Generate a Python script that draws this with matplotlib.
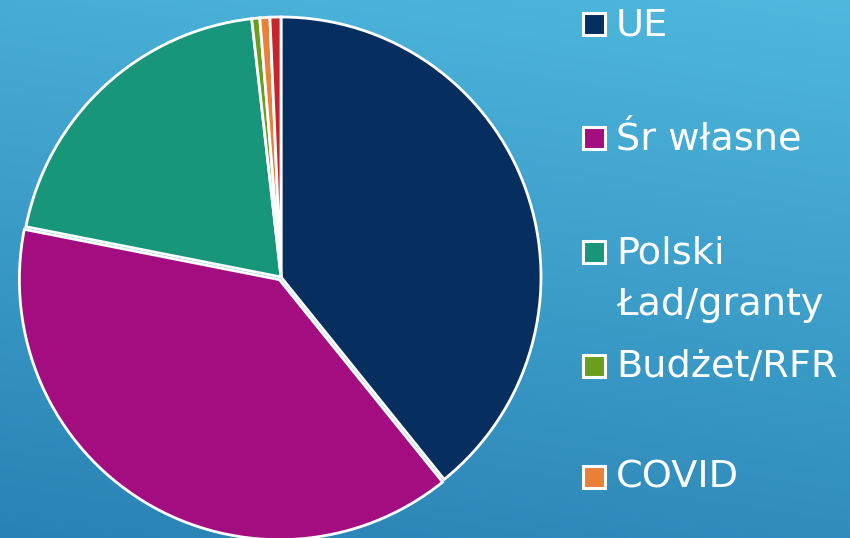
import numpy as np
import matplotlib
matplotlib.use('Agg')
import matplotlib.pyplot as plt
from matplotlib.patches import Rectangle

# Data (share of funding, %)
categories = ['UE', 'Śr własne', 'Polski\nŁad/granty', 'Budżet/RFR', 'COVID', 'Inne']
values = [39.2, 38.9, 20.1, 0.5, 0.62, 0.68]
colors = ['#062f5f', '#a30d80', '#17967a', '#6b9e1e', '#ea8039', '#c8242b']
explode = [0, 0.012, 0, 0, 0, 0]
legend_y = [24, 138, 252, 366, 477]  # pixel rows of the legend entries (first line)

W, H = 850, 538
fig = plt.figure(figsize=(W / 100, H / 100), dpi=100)

# gradient background
bg = fig.add_axes([0, 0, 1, 1])
yy, xx = np.mgrid[0:1:200j, 0:1:300j]
t = np.clip(0.8 * yy + 0.2 * (1 - xx), 0, 1)
top = np.array([0x4f, 0xb8, 0xdd]) / 255
bot = np.array([0x29, 0x82, 0xb4]) / 255
img = top[None, None, :] * (1 - t[..., None]) + bot[None, None, :] * t[..., None]
bg.imshow(img, aspect='auto', extent=[0, 1, 0, 1], origin='upper')
bg.axis('off')

# pie: centre (281, 277) px, radius 260 px
cx, cy, r = 281, 277, 260
ax = fig.add_axes([(cx - r) / W, (H - cy - r) / H, 2 * r / W, 2 * r / H])
ax.pie(values, colors=colors, startangle=90, counterclock=False, explode=explode,
       wedgeprops=dict(edgecolor='white', linewidth=2.0))
ax.set_xlim(-1, 1)
ax.set_ylim(-1, 1)
ax.set_aspect('equal')
ax.axis('off')

# legend (drawn by hand to match the slide layout)
for lab, col, y in zip(categories[:5], colors[:5], legend_y):
    fig.patches.append(Rectangle((583 / W, 1 - (y + 11) / H), 22 / W, 22 / H,
                                 transform=fig.transFigure, facecolor=col,
                                 edgecolor='white', linewidth=2.2))
    fig.text(616 / W, 1 - (y - 17) / H, lab, color='white', fontsize=27.5,
             family='DejaVu Sans', va='top', ha='left', linespacing=1.57)

fig.savefig('out.png', dpi=100)
